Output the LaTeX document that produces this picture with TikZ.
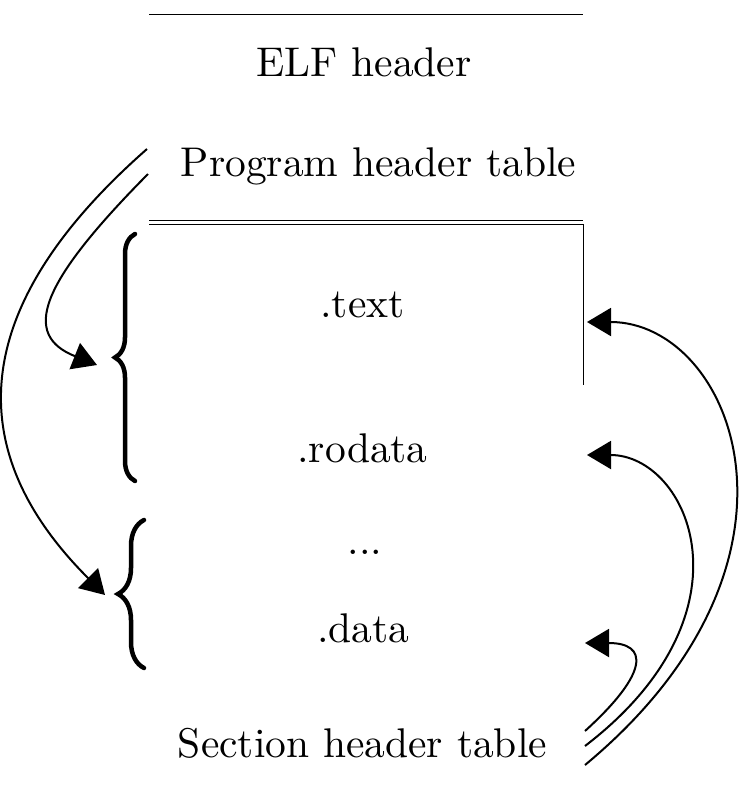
\documentclass[tikz,border=0pt]{standalone}
\usepackage{fontspec}
\setmainfont{lmroman10-regular.otf}
\usetikzlibrary{arrows.meta,decorations.pathreplacing}
\begin{document}
\begin{tikzpicture}[x=1pt,y=-1pt,
  lbl/.style={font=\fontsize{41.5}{50}\selectfont, inner sep=0pt, anchor=base},
  ruleline/.style={line width=1pt},
  conn/.style={line width=2pt, -{Triangle[length=24pt,width=28pt]}},
  bracestyle/.style={line width=4.5pt, line cap=round, decorate, decoration={brace, amplitude=#1}}]
\useasboundingbox (0,0) rectangle (746,798);

% rules of the table
\coordinate (topL) at (149,14);
\coordinate (topR) at (583,14);
\coordinate (dblAL) at (149,220);
\coordinate (dblAR) at (583,220);
\coordinate (dblBL) at (149,224);
\coordinate (dblBR) at (583,224);
\coordinate (sideB) at (583,385);
\draw[ruleline] (topL) -- (topR);
\draw[ruleline] (dblAL) -- (dblAR);
\draw[ruleline] (dblBL) -- (dblBR) -- (sideB);

% labels
\node[lbl] (elf) at (364,76) {ELF header};
\node[lbl] (pht) at (378.5,176) {Program header table};
\node[lbl] (text) at (362.5,317) {.text};
\node[lbl] (rodata) at (362.5,462) {.rodata};
\node[lbl] (dots) at (365,554) {...};
\node[lbl] (data) at (363.5,642) {.data};
\node[lbl] (sht) at (362.5,757) {Section header table};

% braces
\coordinate (b1bot) at (135,481);
\coordinate (b1top) at (135,234);
\coordinate (b2bot) at (144,668);
\coordinate (b2top) at (144,520);
\draw[bracestyle=20pt] (b1bot) -- (b1top);
\draw[bracestyle=26pt] (b2bot) -- (b2top);

% left arrows (program header table)
\coordinate (a1s) at (148,174);
\coordinate (a1e) at (97,365);
\coordinate (a2s) at (147,149);
\coordinate (a2e) at (105,595);
\draw[conn] (a1s) .. controls (38,285) and (22,335) .. (a1e);
\draw[conn] (a2s) .. controls (-67,337) and (-9,481) .. (a2e);

% right arrows (section header table)
\coordinate (a3s) at (585,765);
\coordinate (a3e) at (587,322);
\coordinate (a4s) at (585,746);
\coordinate (a4e) at (587,455);
\coordinate (a5s) at (585,731);
\coordinate (a5e) at (585,643);
\draw[conn] (a3s) .. controls (832,560) and (732,322) .. (a3e);
\draw[conn] (a4s) .. controls (760,612) and (688,455) .. (a4e);
\draw[conn] (a5s) .. controls (650,672) and (648,643) .. (a5e);
\end{tikzpicture}
\end{document}
